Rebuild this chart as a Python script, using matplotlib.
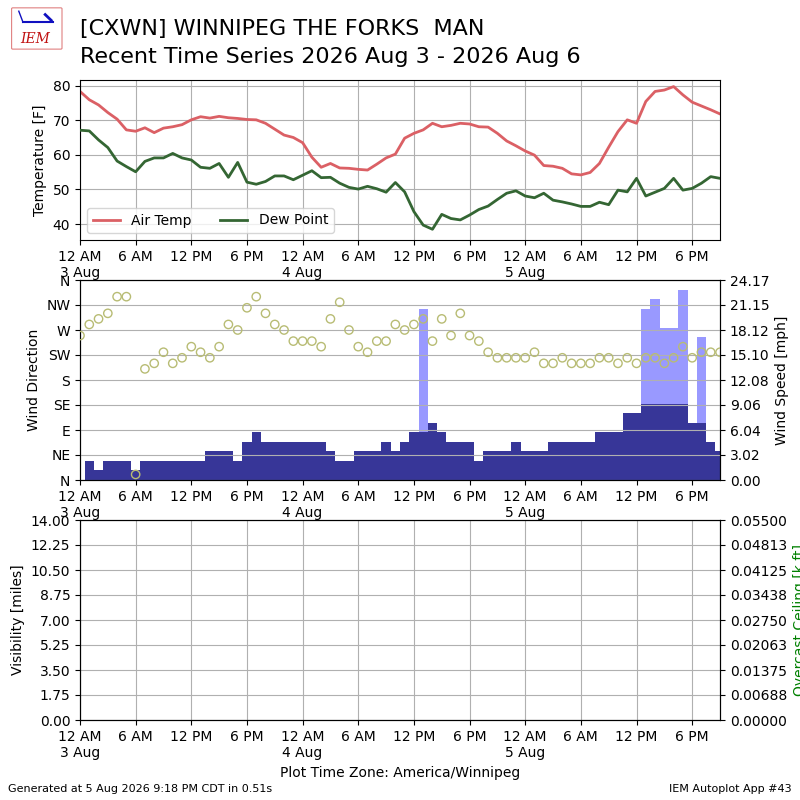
import matplotlib
matplotlib.use("Agg")
import matplotlib.pyplot as plt
import matplotlib.dates as mdates
from matplotlib.ticker import FuncFormatter, FixedLocator
from matplotlib.patches import FancyBboxPatch
import numpy as np
import pandas as pd

# hourly observations, 3 Aug 2026 00:00 through 5 Aug 2026 21:00 (local)
valid = pd.date_range("2026-08-03 00:00", periods=70, freq="h")

tmpf = [78.3, 75.9, 74.4, 72.2, 70.3, 67.2, 66.8, 67.8, 66.4, 67.7,
        68.1, 68.7, 70.1, 71.0, 70.6, 71.1, 70.7, 70.5, 70.2, 70.1,
        69.1, 67.4, 65.7, 65.0, 63.5, 59.3, 56.4, 57.5, 56.2, 56.1,
        55.8, 55.6, 57.3, 59.1, 60.2, 64.8, 66.2, 67.2, 69.1, 68.1,
        68.5, 69.1, 68.9, 68.1, 68.0, 66.2, 64.0, 62.6, 61.1, 59.9,
        56.9, 56.7, 56.1, 54.5, 54.2, 54.9, 57.5, 62.2, 66.7, 70.1,
        69.1, 75.4, 78.3, 78.7, 79.7, 77.3, 75.2, 74.1, 73.0, 71.8]

dwpf = [67.1, 66.9, 64.3, 62.1, 58.2, 56.6, 55.1, 58.1, 59.1, 59.1,
        60.4, 59.1, 58.5, 56.4, 56.1, 57.5, 53.5, 57.8, 52.1, 51.5,
        52.3, 53.9, 53.9, 52.8, 54.1, 55.4, 53.4, 53.5, 51.8, 50.6,
        50.1, 50.9, 50.2, 49.2, 52.0, 49.3, 43.6, 39.7, 38.5, 42.8,
        41.6, 41.2, 42.6, 44.2, 45.2, 47.1, 48.9, 49.6, 48.1, 47.6,
        48.9, 46.9, 46.4, 45.8, 45.1, 45.1, 46.3, 45.6, 49.8, 49.3,
        53.2, 48.1, 49.2, 50.3, 53.2, 49.8, 50.3, 51.8, 53.7, 53.2]

drct = [260, 280, 290, 300, 330, 330, 10, 200, 210, 230,
        210, 220, 240, 230, 220, 240, 280, 270, 310, 330,
        300, 280, 270, 250, 250, 250, 240, 290, 320, 270,
        240, 230, 250, 250, 280, 270, 280, 290, 250, 290,
        260, 300, 260, 250, 230, 220, 220, 220, 220, 230,
        210, 210, 220, 210, 210, 210, 220, 220, 210, 220,
        210, 220, 220, 210, 220, 240, 220, 230, 230, 230]

# wind speed and gust in knots
sknt = [0, 2, 1, 2, 2, 2, 1, 2, 2, 2,
        2, 2, 2, 2, 3, 3, 3, 2, 4, 5,
        4, 4, 4, 4, 4, 4, 4, 3, 2, 2,
        3, 3, 3, 4, 3, 4, 5, 5, 6, 5,
        4, 4, 4, 2, 3, 3, 3, 4, 3, 3,
        3, 4, 4, 4, 4, 4, 5, 5, 5, 7,
        7, 8, 8, 8, 8, 8, 6, 6, 4, 3]

gust = [np.nan] * 70
for hr, g in [(37, 18), (61, 18), (62, 19), (63, 16), (64, 16), (65, 20), (67, 15)]:
    gust[hr] = g

dir_labels = ["N", "NE", "E", "SE", "S", "SW", "W", "NW", "N"]
ceiling_ticklabels = ["0.00000", "0.00688", "0.01375", "0.02063", "0.02750",
                      "0.03438", "0.04125", "0.04813", "0.05500"]

KT2MPH = 1.15078
smph = np.array(sknt) * KT2MPH
gmph = np.array(gust) * KT2MPH


def time_label(x, pos):
    dt = mdates.num2date(x)
    hr = dt.hour % 12
    if hr == 0:
        hr = 12
    ampm = "AM" if dt.hour < 12 else "PM"
    if dt.hour == 0:
        return f"{hr} {ampm}\n{dt.day} {dt.strftime('%b')}"
    return f"{hr} {ampm}"


def setup_time_axis(ax):
    ax.set_xlim(valid[0], valid[-1])
    ax.xaxis.set_major_locator(mdates.HourLocator(byhour=[0, 6, 12, 18]))
    ax.xaxis.set_major_formatter(FuncFormatter(time_label))


fig = plt.figure(figsize=(8, 8), dpi=100)

# title / logo
fig.text(0.1, 0.956, "[CXWN] WINNIPEG THE FORKS  MAN", fontsize=16, va="baseline")
fig.text(0.1, 0.921, "Recent Time Series 2026 Aug 3 - 2026 Aug 6", fontsize=16, va="baseline")
lax = fig.add_axes([0.01, 0.935, 0.075, 0.06])
lax.set_xlim(0, 1)
lax.set_ylim(0, 1)
lax.axis("off")
lax.add_patch(FancyBboxPatch((0.08, 0.08), 0.8, 0.82, boxstyle="round,pad=0.02",
                             fill=False, edgecolor="#e08080", lw=0.8))
lax.plot([0.25, 0.75], [0.62, 0.62], color="#1010c0", lw=1.5)
lax.plot([0.25, 0.18], [0.62, 0.85], color="#1010c0", lw=1)
lax.plot([0.62, 0.72], [0.78, 0.66], color="#1010c0", lw=2)
lax.text(0.45, 0.12, "IEM", color="#c01010", fontsize=10, style="italic",
         family="DejaVu Serif", ha="center", va="bottom")

# temperature panel
ax1 = fig.add_axes([0.1, 0.7, 0.8, 0.2])
ax1.plot(valid, tmpf, lw=2, color="#db6065", label="Air Temp", zorder=2)
ax1.plot(valid, dwpf, lw=2, color="#346633", label="Dew Point", zorder=3)
ax1.set_ylim(35.4, 81.6)
ax1.set_ylabel("Temperature [F]")
ax1.grid(True)
ax1.legend(loc="lower left", ncol=2)
setup_time_axis(ax1)

# wind panel: speed bars underneath, direction scatter on a twin axis
ax2 = fig.add_axes([0.1, 0.4, 0.8, 0.25])
ax2.bar(valid, gmph, width=1 / 24.0, color="#9999ff", zorder=1)
ax2.bar(valid, smph, width=1 / 24.0, color="#373698", zorder=2)
wmax = np.nanmax(gmph) * 1.05
ax2.set_ylim(0, wmax)
ax2.yaxis.set_major_locator(FixedLocator(np.linspace(0, wmax, 9)))
ax2.yaxis.set_major_formatter(FuncFormatter(lambda v, p: f"{v:.2f}"))
setup_time_axis(ax2)

ax2d = ax2.twinx()
ax2d.scatter(valid, drct, facecolor="none", edgecolor="#b8bc74", zorder=3)
ax2d.set_ylim(0, 360)
ax2d.set_yticks(np.arange(0, 361, 45))
ax2d.set_yticklabels(dir_labels)
ax2d.grid(True)
setup_time_axis(ax2d)

# swap sides after twinx so speed is on the right, direction on the left
ax2.yaxis.tick_right()
ax2.yaxis.set_label_position("right")
ax2.set_ylabel("Wind Speed [mph]")
ax2d.yaxis.tick_left()
ax2d.yaxis.set_label_position("left")
ax2d.set_ylabel("Wind Direction")

# visibility / ceiling panel
ax3 = fig.add_axes([0.1, 0.1, 0.8, 0.25])
ax3.set_ylim(0, 14)
ax3.set_yticks(np.linspace(0, 14, 9))
ax3.yaxis.set_major_formatter(FuncFormatter(lambda v, p: f"{v:.2f}"))
ax3.set_ylabel("Visibility [miles]")
ax3.grid(True)
setup_time_axis(ax3)
ax3r = ax3.twinx()
ax3r.set_ylim(0, 0.055)
ax3r.set_yticks(np.linspace(0, 0.055, 9))
ax3r.set_yticklabels(ceiling_ticklabels)
ax3r.set_ylabel("Overcast Ceiling [k ft]", color="g")
setup_time_axis(ax3r)

fig.text(0.5, 0.025, "Plot Time Zone: America/Winnipeg", ha="center", va="bottom")
fig.text(0.01, 0.01, "Generated at 5 Aug 2026 9:18 PM CDT in 0.51s", fontsize=8)
fig.text(0.99, 0.01, "IEM Autoplot App #43", fontsize=8, ha="right")

fig.savefig("out.png", dpi=100)
